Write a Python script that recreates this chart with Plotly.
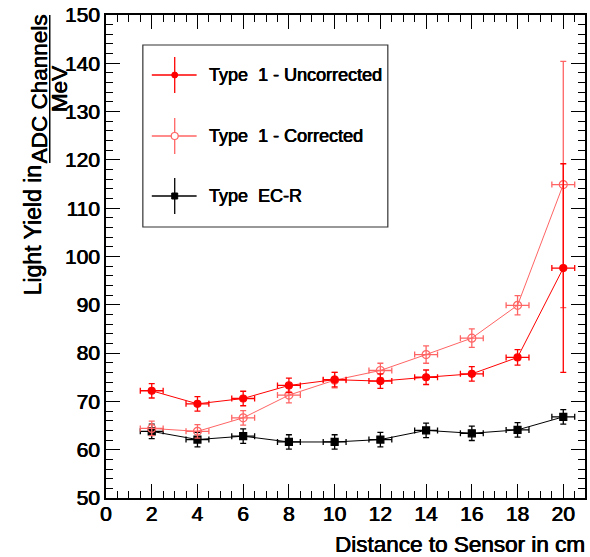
import plotly.graph_objects as go

# ---------------- data ----------------
distance = [2, 4, 6, 8, 10, 12, 14, 16, 18, 20]
x_err = [0.5] * 10

uncorrected = [72.2, 69.5, 70.6, 73.3, 74.5, 74.2, 75.0, 75.7, 79.1, 97.6]
uncorrected_err = [1.5, 1.5, 1.5, 1.5, 1.5, 1.5, 1.5, 1.5, 1.6, 21.6]

corrected = [64.4, 63.8, 66.6, 71.3, 74.4, 76.4, 79.7, 83.1, 89.9, 114.9]
corrected_err = [1.5, 1.4, 1.5, 1.6, 1.6, 1.5, 1.8, 1.9, 2.0, 25.5]

ecr = [63.8, 62.1, 62.8, 61.6, 61.6, 62.1, 64.0, 63.4, 64.1, 66.8]
ecr_err = [1.5, 1.5, 1.5, 1.5, 1.5, 1.5, 1.5, 1.5, 1.5, 1.5]

legend_labels = ["Type\u00a0\u00a01 - Uncorrected", "Type\u00a0\u00a01 - Corrected", "Type\u00a0\u00a0EC-R"]

RED = "#ff0000"
LIGHT_RED = "#ff6464"
BLACK = "#000000"
FONT = "Liberation Sans, Arial, sans-serif"
THICK = "0.35px 0 0 black, -0.35px 0 0 black"

# plot-area pixel box (for layout helpers)
L, R, T, B = 106, 587, 15, 498
W, H = 590, 557


def px(x):
    return (x - L) / (R - L)


def py(y):
    return (B - y) / (B - T)


def tfont(size):
    return dict(family=FONT, size=size, color="black", shadow=THICK)


fig = go.Figure()


def add_series(y, yerr, color, symbol, size, lw=1.0):
    fig.add_trace(go.Scatter(
        x=distance, y=y, mode="lines+markers",
        line=dict(color=color, width=lw),
        marker=dict(color=color, symbol=symbol, size=size,
                    line=dict(color=color, width=1.2)),
        error_x=dict(type="data", array=x_err, color=color, thickness=1.3, width=3),
        error_y=dict(type="data", array=yerr, color=color, thickness=1.3, width=3),
        showlegend=False, cliponaxis=False,
    ))


add_series(ecr, ecr_err, BLACK, "square", 7)
add_series(corrected, corrected_err, LIGHT_RED, "circle-open", 8)
add_series(uncorrected, uncorrected_err, RED, "circle", 7)

shapes = []
annotations = []

# legend box
shapes.append(dict(type="rect", xref="paper", yref="paper",
                   x0=px(143), x1=px(389), y0=py(45), y1=py(227),
                   line=dict(color="#333333", width=1.2), fillcolor="white", layer="below"))
leg_rows = [75, 136, 196]
leg_colors = [RED, LIGHT_RED, BLACK]
for i, (yy, col, lab) in enumerate(zip(leg_rows, leg_colors, legend_labels)):
    shapes.append(dict(type="line", xref="paper", yref="paper",
                       x0=px(152), x1=px(197), y0=py(yy), y1=py(yy),
                       line=dict(color=col, width=1.3)))
    shapes.append(dict(type="line", xref="paper", yref="paper",
                       x0=px(175), x1=px(175), y0=py(yy - 18), y1=py(yy + 18),
                       line=dict(color=col, width=1.3)))
    if i == 0:
        shapes.append(dict(type="circle", xref="paper", yref="paper",
                           x0=px(172), x1=px(178), y0=py(yy - 3), y1=py(yy + 3),
                           line=dict(color=col, width=1), fillcolor=col))
    elif i == 1:
        shapes.append(dict(type="circle", xref="paper", yref="paper",
                           x0=px(171.5), x1=px(178.5), y0=py(yy - 3.5), y1=py(yy + 3.5),
                           line=dict(color=col, width=1.2), fillcolor="white"))
    else:
        shapes.append(dict(type="rect", xref="paper", yref="paper",
                           x0=px(172), x1=px(178), y0=py(yy - 3), y1=py(yy + 3),
                           line=dict(color=col, width=1), fillcolor=col))
    annotations.append(dict(text=lab, xref="paper", yref="paper",
                            x=px(207), y=py(yy), xanchor="left", yanchor="middle",
                            showarrow=False, font=tfont(18)))

# y axis title: "Light Yield in" + fraction
annotations.append(dict(text="Light Yield in", xref="paper", yref="paper",
                        x=px(33), y=py(230), xanchor="center", yanchor="middle",
                        textangle=-90, showarrow=False, font=tfont(23)))
annotations.append(dict(text="ADC Channels", xref="paper", yref="paper",
                        x=px(39), y=py(89), xanchor="center", yanchor="middle",
                        textangle=-90, showarrow=False, font=tfont(22.5)))
annotations.append(dict(text="MeV", xref="paper", yref="paper",
                        x=px(59), y=py(89), xanchor="center", yanchor="middle",
                        textangle=-90, showarrow=False, font=tfont(22.5)))
shapes.append(dict(type="line", xref="paper", yref="paper",
                   x0=px(49.5), x1=px(49.5), y0=py(15), y1=py(163),
                   line=dict(color="black", width=1.5)))

# x axis title
annotations.append(dict(text="Distance to Sensor in cm", xref="paper", yref="paper",
                        x=px(589), y=py(544), xanchor="right", yanchor="middle",
                        showarrow=False, font=tfont(22.5)))

axis_common = dict(
    showline=True, linecolor="black", linewidth=1.5, mirror="ticks",
    ticks="inside", ticklen=14, tickwidth=1.3, tickcolor="black",
    showgrid=False, zeroline=False,
    tickfont=tfont(21),
)

fig.update_layout(
    width=W, height=H,
    margin=dict(l=L, r=W - R, t=T, b=H - B, pad=0),
    paper_bgcolor="white", plot_bgcolor="white",
    xaxis=dict(range=[0, 20.95], tickmode="linear", tick0=0, dtick=2,
               ticklabelstandoff=-4,
               minor=dict(dtick=0.5, ticklen=7, ticks="inside", tickcolor="black", tickwidth=1.1),
               **axis_common),
    yaxis=dict(range=[50, 150], tickmode="linear", tick0=50, dtick=10,
               minor=dict(dtick=2, ticklen=7, ticks="inside", tickcolor="black", tickwidth=1.1),
               **axis_common),
    shapes=shapes,
    annotations=annotations,
    showlegend=False,
)

fig.write_html("out.html")
